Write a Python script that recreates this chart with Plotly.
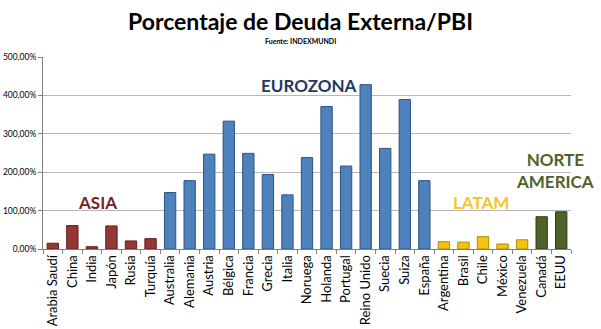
import plotly.graph_objects as go

countries = ["Arabia Saudí", "China", "India", "Japón", "Rusia", "Turquía",
             "Australia", "Alemania", "Austria", "Bélgica", "Francia", "Grecia",
             "Italia", "Noruega", "Holanda", "Portugal", "Reino Unido", "Suecia",
             "Suiza", "España", "Argentina", "Brasil", "Chile", "México",
             "Venezuela", "Canadá", "EEUU"]
values = [15, 61, 6, 60, 21, 27,
          147, 178, 247, 333, 249, 194,
          141, 238, 371, 216, 428, 262,
          389, 178, 19, 18, 32, 13,
          24, 84, 97]
regions = ["ASIA"] * 6 + ["EUROZONA"] * 14 + ["LATAM"] * 5 + ["NA"] * 2

fill = {"ASIA": "#953735", "EUROZONA": "#4F81BD", "LATAM": "#F2C314", "NA": "#4F6228"}
edge = {"ASIA": "#5e1f1d", "EUROZONA": "#2c5282", "LATAM": "#b08a00", "NA": "#2f3d15"}

y_ticks = [0, 100, 200, 300, 400, 500]
y_tick_labels = ["0,00%", "100,00%", "200,00%", "300,00%", "400,00%", "500,00%"]

fig = go.Figure()
fig.add_trace(go.Bar(
    x=countries, y=values, width=0.58,
    marker=dict(color=[fill[r] for r in regions],
                line=dict(color=[edge[r] for r in regions], width=1)),
    hoverinfo="x+y",
))

fig.update_layout(
    width=601, height=329,
    margin=dict(l=43, r=30, t=57, b=80, autoexpand=False),
    paper_bgcolor="white", plot_bgcolor="white",
    showlegend=False,
    font=dict(family="Lato, Open Sans, sans-serif", color="#000000"),
)
fig.update_xaxes(
    range=[-0.5, len(countries) - 0.5], autorange=False, automargin=False,
    tickangle=-90, tickfont=dict(size=13, color="#000"),
    showline=True, linecolor="#808080", linewidth=1,
    ticks="outside", tickson="boundaries", ticklen=4, tickcolor="#808080",
    showgrid=False,
)
fig.update_yaxes(
    range=[0, 500], autorange=False, automargin=False,
    tickvals=y_ticks, ticktext=y_tick_labels,
    tickfont=dict(size=8.5, color="#000"),
    showline=True, linecolor="#808080", linewidth=1,
    ticks="outside", ticklen=4, tickcolor="#808080",
    showgrid=True, gridcolor="#b8b8b8", gridwidth=1,
    zeroline=False,
)

cx = (300 - 43) / 528
fig.add_annotation(text="<b>Porcentaje de Deuda Externa/PBI</b>", xref="paper", yref="paper",
                   x=cx, y=(249 - 21) / 192, yanchor="middle", showarrow=False,
                   font=dict(size=23, color="#000"))
fig.add_annotation(text="<b>Fuente: INDEXMUNDI</b>", xref="paper", yref="paper",
                   x=cx, y=(249 - 41) / 192, yanchor="middle", showarrow=False,
                   font=dict(size=7, color="#000"))

labels = [
    ("<b>ASIA</b>", 2.3, 120, "#7a1f1f", 17),
    ("<b>EUROZONA</b>", 13.1, 425, "#1F3864", 17),
    ("<b>LATAM</b>", 21.9, 120, "#F5C52A", 17),
    ("<b>NORTE<br>AMERICA</b>", 25.7, 205, "#4F6228", 17),
]
for t, xi, yv, c, s in labels:
    fig.add_annotation(text=t, x=xi, y=yv, xref="x", yref="y", showarrow=False,
                       font=dict(size=s, color=c), align="center")

fig.write_html("out.html")
